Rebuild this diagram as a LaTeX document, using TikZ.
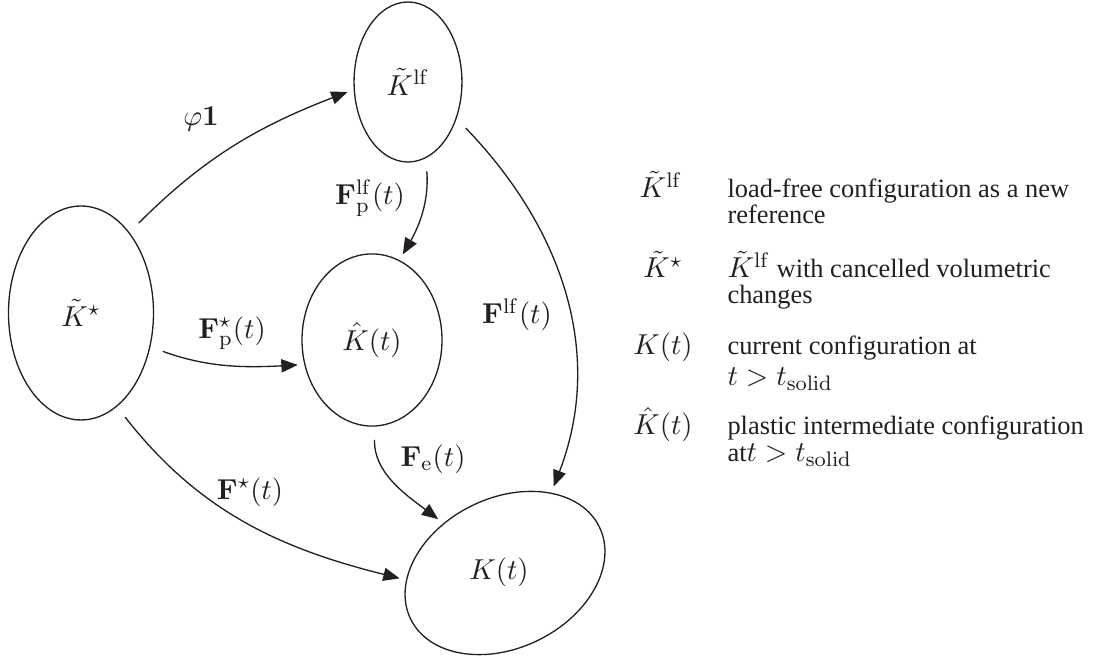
\documentclass[tikz,border=0pt]{standalone}
\usepackage{amsmath,amssymb}
\usepackage[no-math]{fontspec}
\setmainfont{Liberation Serif}[Scale=0.88]
\usetikzlibrary{arrows.meta,shapes.geometric}
\definecolor{ink}{HTML}{231F20}
\tikzset{conf/.style={ellipse,draw=ink,line width=.5pt,inner sep=0pt},
  map/.style={draw=ink,line width=.5pt,-{Triangle[length=6.2pt,width=5pt]},shorten <=5pt,shorten >=2.5pt},
  lbl/.style={text=ink,font=\fontsize{11.4}{13}\selectfont},
  txt/.style={lbl,anchor=base west,inner sep=0pt}}
\begin{document}
\begin{tikzpicture}[x=.38pt,y=.38pt]
\useasboundingbox (0,0) rectangle (1097,-661);
\node[conf,lbl,minimum width=41pt,minimum height=60.8pt] (klf) at (408,-82) {$\tilde{K}^{\mathrm{lf}}$};
\node[conf,lbl,minimum width=55.1pt,minimum height=81.3pt] (kstar) at (81,-313) {$\tilde{K}^{\star}$};
\node[conf,lbl,minimum width=53.2pt,minimum height=65.4pt] (khat) at (372,-340) {$\hat{K}(t)$};
\node[conf,rotate=26,minimum width=79.8pt,minimum height=57pt] (kt) at (505,-573) {};
\node[lbl] (ktl) at (499,-572) {$K(t)$};
\draw[map] (kstar.59) to[out=45,in=201] (klf.188);
\draw[map] (klf.283) to[out=-85,in=60] (khat.71);
\draw[map] (kstar.334) to[out=-20,in=183] (khat.200);
\draw[map] (klf.323) to[out=-46,in=69] (kt.34.8);
\draw[map] (khat.272) to[out=-92,in=143] (kt.115);
\draw[map] (kstar.291) to[out=-52,in=166] (kt.158);
\node[lbl] (phi) at (201,-119) {$\varphi\mathbf{1}$};
\node[lbl] (fplf) at (370,-198) {$\mathbf{F}_{\mathrm{p}}^{\mathrm{lf}}(t)$};
\node[lbl] (fpst) at (232,-333) {$\mathbf{F}_{\mathrm{p}}^{\star}(t)$};
\node[lbl] (flf) at (517,-315) {$\mathbf{F}^{\mathrm{lf}}(t)$};
\node[lbl] (fe) at (433,-459) {$\mathbf{F}_{\mathrm{e}}(t)$};
\node[lbl] (fst) at (250,-492) {$\mathbf{F}^{\star}(t)$};
\node[lbl,anchor=base] (s1) at (661,-198) {$\tilde{K}^{\mathrm{lf}}$};
\node[txt] (t1a) at (727,-198) {load-free configuration as a new};
\node[txt] (t1b) at (727,-224) {reference};
\node[lbl,anchor=base] (s2) at (663,-278) {$\tilde{K}^{\star}$};
\node[txt] (t2a) at (727,-278) {$\tilde{K}^{\mathrm{lf}}$ with cancelled volumetric};
\node[txt] (t2b) at (727,-304) {changes};
\node[lbl,anchor=base] (s3) at (663,-355) {$K(t)$};
\node[txt] (t3a) at (727,-355) {current configuration at};
\node[txt] (t3b) at (727,-386) {$t>t_{\mathrm{solid}}$};
\node[lbl,anchor=base] (s4) at (663,-435) {$\hat{K}(t)$};
\node[txt] (t4a) at (727,-435) {plastic intermediate configuration};
\node[txt] (t4b) at (727,-462) {at$t>t_{\mathrm{solid}}$};
\end{tikzpicture}
\end{document}
